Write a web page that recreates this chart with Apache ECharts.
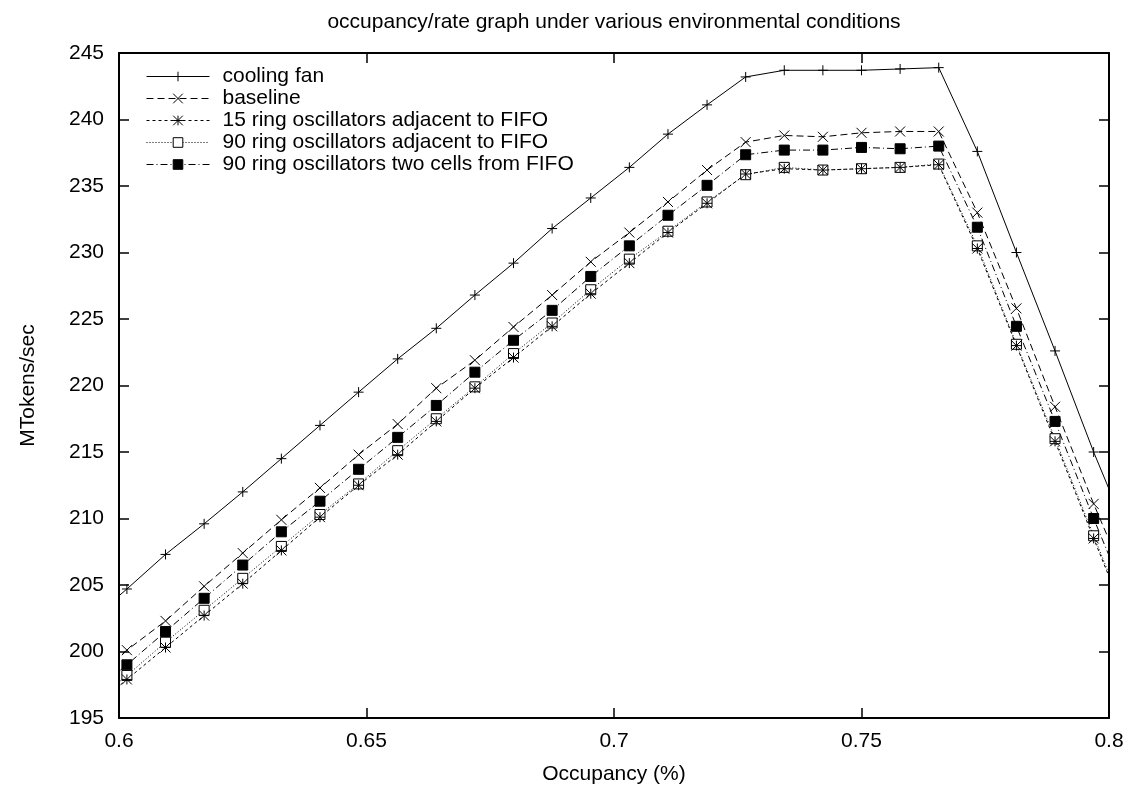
<!DOCTYPE html>
<html>
<head>
<meta charset="utf-8">
<title>occupancy/rate graph</title>
<script src="https://cdn.jsdelivr.net/npm/echarts@6/dist/echarts.min.js"></script>
<style>
  html, body { margin: 0; padding: 0; background: #fff; }
  #main { width: 1143px; height: 785px; }
</style>
</head>
<body>
<div id="main"></div>
<script>
// occupancy values (x), the outermost points sit just outside the axis range
const occupancy = [0.59375, 0.6016, 0.6094, 0.6172, 0.625, 0.6328, 0.6406, 0.6484, 0.6563, 0.6641,
  0.6719, 0.6797, 0.6875, 0.6953, 0.7031, 0.7109, 0.7188, 0.7266, 0.7344, 0.7422,
  0.75, 0.7578, 0.7656, 0.7734, 0.7813, 0.7891, 0.7969, 0.8047];

const coolingFan = [202.2, 204.7, 207.3, 209.6, 212.0, 214.5, 217.0, 219.5, 222.0, 224.3,
  226.8, 229.2, 231.8, 234.1, 236.4, 238.9, 241.1, 243.2, 243.7, 243.7,
  243.7, 243.8, 243.9, 237.6, 230.0, 222.6, 215.0, 208.0];

const baseline = [197.8, 200.1, 202.3, 204.9, 207.4, 209.9, 212.3, 214.8, 217.1, 219.8,
  221.9, 224.4, 226.8, 229.3, 231.5, 233.8, 236.2, 238.3, 238.8, 238.7,
  239.0, 239.1, 239.1, 233.0, 225.8, 218.4, 211.1, 204.3];

const ring15Adjacent = [195.5, 197.9, 200.3, 202.7, 205.1, 207.6, 210.1, 212.5, 214.8, 217.3,
  219.8, 222.1, 224.45, 226.9, 229.2, 231.5, 233.7, 235.9, 236.3, 236.2,
  236.3, 236.4, 236.6, 230.3, 223.0, 215.8, 208.5, 201.3];

const ring90Adjacent = [195.8, 198.2, 200.7, 203.1, 205.5, 207.9, 210.3, 212.6, 215.1, 217.5,
  219.9, 222.4, 224.7, 227.2, 229.5, 231.6, 233.8, 235.85, 236.4, 236.2,
  236.3, 236.4, 236.65, 230.5, 223.1, 216.0, 208.7, 201.5];

const ring90TwoCells = [196.6, 199.0, 201.5, 204.0, 206.5, 209.0, 211.3, 213.7, 216.1, 218.5,
  221.0, 223.4, 225.65, 228.2, 230.5, 232.8, 235.05, 237.35, 237.7, 237.7,
  237.9, 237.8, 238.0, 231.9, 224.45, 217.3, 210.0, 203.0];

const seriesNames = ['cooling fan', 'baseline', '15 ring oscillators adjacent to FIFO',
  '90 ring oscillators adjacent to FIFO', '90 ring oscillators two cells from FIFO'];

const FONT = '"Liberation Sans", Arial, Helvetica, sans-serif';

const symPlus = 'path://M0,5L10,5M5,0L5,10';
const symCross = 'path://M0,0L10,10M0,10L10,0';
const symStar = 'path://M0,5L10,5M5,0L5,10M0,0L10,10M0,10L10,0';
const symBox = 'path://M0,0L10,0L10,10L0,10Z';

function pairs(values) {
  return values.map((v, i) => [occupancy[i], v]);
}

function makeSeries(name, values, symbol, dash, fill) {
  return {
    name: name,
    type: 'line',
    data: pairs(values),
    symbol: symbol,
    symbolSize: 10,
    showAllSymbol: true,
    clip: true,
    lineStyle: { color: '#000', width: 1, type: dash },
    itemStyle: { color: fill, borderColor: '#000', borderWidth: 1 },
    emphasis: { disabled: true }
  };
}

const mirrorTick = { show: true, inside: true, length: 10, lineStyle: { color: '#000', width: 1.5 } };
const frameLine = { show: true, onZero: false, lineStyle: { color: '#000', width: 2 } };

let chart = echarts.init(document.getElementById('main'), null, { renderer: 'canvas' });

let option = {
  animation: false,
  backgroundColor: '#fff',
  textStyle: { fontFamily: FONT, color: '#000' },
  title: {
    text: 'occupancy/rate graph under various environmental conditions',
    left: 614,
    top: 12,
    padding: 0,
    textAlign: 'center',
    textStyle: { fontFamily: FONT, fontSize: 21, fontWeight: 'normal', color: '#000' }
  },
  legend: {
    data: seriesNames,
    orient: 'vertical',
    left: 146,
    top: 66,
    padding: 0,
    itemGap: 1,
    itemWidth: 63,
    itemHeight: 12,
    selectedMode: false,
    lineStyle: { width: 1 },
    itemStyle: { borderWidth: 1 },
    textStyle: { fontFamily: FONT, fontSize: 21, color: '#000', padding: [0, 0, 0, 8] }
  },
  // fixed plot box, do not let the labels push it in
  grid: { left: 119, right: 34, top: 53, bottom: 67, containLabel: false, outerBoundsMode: 'none' },
  xAxis: [
    {
      type: 'value', min: 0.6, max: 0.8, interval: 0.05,
      name: 'Occupancy (%)', nameLocation: 'middle', nameGap: 46,
      nameTextStyle: { fontFamily: FONT, fontSize: 21, color: '#000' },
      axisLine: frameLine,
      axisTick: mirrorTick,
      axisLabel: { fontFamily: FONT, fontSize: 21, color: '#000', margin: 13 },
      splitLine: { show: false }
    },
    {
      type: 'value', position: 'top', min: 0.6, max: 0.8, interval: 0.05,
      axisLine: frameLine, axisTick: mirrorTick,
      axisLabel: { show: false }, splitLine: { show: false }
    }
  ],
  yAxis: [
    {
      type: 'value', min: 195, max: 245, interval: 5,
      name: 'MTokens/sec', nameLocation: 'middle', nameGap: 80,
      nameTextStyle: { fontFamily: FONT, fontSize: 21, color: '#000' },
      axisLine: frameLine,
      axisTick: mirrorTick,
      axisLabel: { fontFamily: FONT, fontSize: 21, color: '#000', margin: 15 },
      splitLine: { show: false }
    },
    {
      type: 'value', position: 'right', min: 195, max: 245, interval: 5,
      axisLine: frameLine, axisTick: mirrorTick,
      axisLabel: { show: false }, splitLine: { show: false }
    }
  ],
  series: [
    makeSeries(seriesNames[0], coolingFan, symPlus, 'solid', '#000'),
    makeSeries(seriesNames[1], baseline, symCross, [7, 4], '#000'),
    makeSeries(seriesNames[3], ring90Adjacent, symBox, [1, 2], '#fff'),
    makeSeries(seriesNames[2], ring15Adjacent, symStar, [3, 3], '#000'),
    makeSeries(seriesNames[4], ring90TwoCells, 'rect', [7, 3, 1, 3], '#000')
  ]
};

chart.setOption(option);
</script>
</body>
</html>
